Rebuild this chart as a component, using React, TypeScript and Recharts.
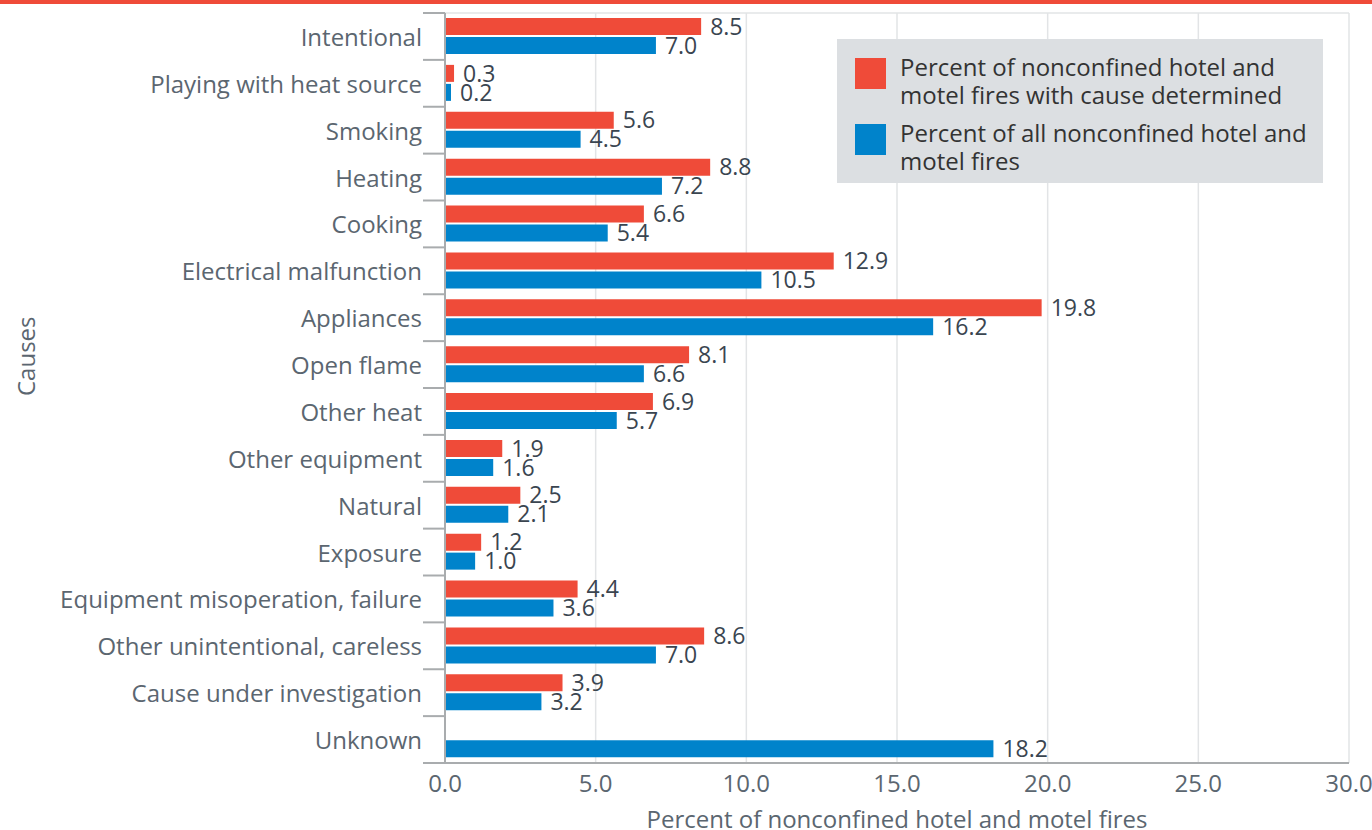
import React from 'react';
import {
  BarChart,
  Bar,
  XAxis,
  YAxis,
  CartesianGrid,
  LabelList,
} from 'recharts';

// categories + series
const causes = [
  'Intentional',
  'Playing with heat source',
  'Smoking',
  'Heating',
  'Cooking',
  'Electrical malfunction',
  'Appliances',
  'Open flame',
  'Other heat',
  'Other equipment',
  'Natural',
  'Exposure',
  'Equipment misoperation, failure',
  'Other unintentional, careless',
  'Cause under investigation',
  'Unknown',
];
const pctDetermined = [8.5, 0.3, 5.6, 8.8, 6.6, 12.9, 19.8, 8.1, 6.9, 1.9, 2.5, 1.2, 4.4, 8.6, 3.9, null];
const pctAll = [7.0, 0.2, 4.5, 7.2, 5.4, 10.5, 16.2, 6.6, 5.7, 1.6, 2.1, 1.0, 3.6, 7.0, 3.2, 18.2];
const xTicks = [0, 5, 10, 15, 20, 25, 30];

const RED = '#ef4b39';
const BLUE = '#0083cb';
const AXIS = '#a9acae';
const TEXT = '#5b6670';
const VALUE = '#3a4550';
const FONT = '"Open Sans", sans-serif';

const data = causes.map((c, i) => ({
  cause: c,
  determined: pctDetermined[i],
  all: pctAll[i],
}));

// category ticks sit between bands, like the original
function CauseTick(props: any) {
  const { x, y, payload, index } = props;
  const half = payload.offset || 0;
  const last = index === causes.length - 1;
  return (
    <g>
      <line x1={x - 22} x2={x} y1={y - half} y2={y - half} stroke={AXIS} strokeWidth={2} />
      {last && (
        <line x1={x - 22} x2={x} y1={y + half} y2={y + half} stroke={AXIS} strokeWidth={2} />
      )}
      <text
        x={x - 23}
        y={y}
        textAnchor="end"
        dominantBaseline="central"
        fill={TEXT}
        fontSize={24}
        fontFamily={FONT}
      >
        {payload.value}
      </text>
    </g>
  );
}

function LegendBox() {
  const items = [
    { color: RED, lines: ['Percent of nonconfined hotel and', 'motel fires with cause determined'] },
    { color: BLUE, lines: ['Percent of all nonconfined hotel and', 'motel fires'] },
  ];
  return (
    <div
      style={{
        position: 'absolute',
        left: 837,
        top: 39,
        width: 486,
        height: 144,
        boxSizing: 'border-box',
        background: '#dcdfe2',
        padding: '14px 10px 0 18px',
        fontFamily: FONT,
        fontSize: 24,
        color: '#333',
        lineHeight: '28px',
      }}
    >
      {items.map((it) => (
        <div key={it.color} style={{ display: 'flex', marginBottom: 10 }}>
          <div
            style={{
              width: 31,
              height: 31,
              background: it.color,
              marginTop: 5,
              marginRight: 14,
              flex: 'none',
            }}
          />
          <div style={{ whiteSpace: 'nowrap' }}>
            {it.lines.map((l) => (
              <div key={l}>{l}</div>
            ))}
          </div>
        </div>
      ))}
    </div>
  );
}

const fmt = (v: any) => (v == null ? '' : Number(v).toFixed(1));

export default function App() {
  return (
    <div style={{ position: 'absolute', left: 0, top: 0, width: 1372, height: 830, background: '#fff' }}>
      <div style={{ height: 4, background: RED, width: '100%', position: 'absolute', top: 0 }} />
      <BarChart
        width={1372}
        height={830}
        data={data}
        layout="vertical"
        margin={{ top: 13, right: 23, bottom: 0, left: 0 }}
        barSize={17}
        barGap={2}
      >
        <CartesianGrid
          vertical
          horizontalCoordinatesGenerator={({ offset }: any) => [offset.top]}
          stroke="#e2e4e6"
          strokeWidth={1.5}
        />
        <XAxis
          type="number"
          domain={[0, 30]}
          ticks={xTicks}
          tickFormatter={(v: number) => v.toFixed(1)}
          tickLine={false}
          axisLine={{ stroke: AXIS, strokeWidth: 2 }}
          tick={{ fill: TEXT, fontSize: 24, fontFamily: FONT }}
          tickMargin={6}
          height={67}
          label={{
            value: 'Percent of nonconfined hotel and motel fires',
            position: 'insideBottom',
            offset: 2,
            fill: TEXT,
            fontSize: 24,
            fontFamily: FONT,
          }}
        />
        <YAxis
          type="category"
          dataKey="cause"
          width={445}
          tickLine={false}
          tickSize={0}
          tickMargin={0}
          axisLine={{ stroke: AXIS, strokeWidth: 2 }}
          tick={<CauseTick />}
          interval={0}
          label={{
            value: 'Causes',
            angle: -90,
            position: 'insideLeft',
            offset: 26,
            dy: 8,
            fill: TEXT,
            fontSize: 24,
            fontFamily: FONT,
          }}
        />
        <Bar dataKey="determined" fill={RED} isAnimationActive={false}>
          <LabelList
            dataKey="determined"
            position="right"
            offset={9}
            formatter={fmt}
            fill={VALUE}
            fontSize={23}
            fontFamily={FONT}
          />
        </Bar>
        <Bar dataKey="all" fill={BLUE} isAnimationActive={false}>
          <LabelList
            dataKey="all"
            position="right"
            offset={9}
            formatter={fmt}
            fill={VALUE}
            fontSize={23}
            fontFamily={FONT}
          />
        </Bar>
      </BarChart>
      <LegendBox />
    </div>
  );
}
